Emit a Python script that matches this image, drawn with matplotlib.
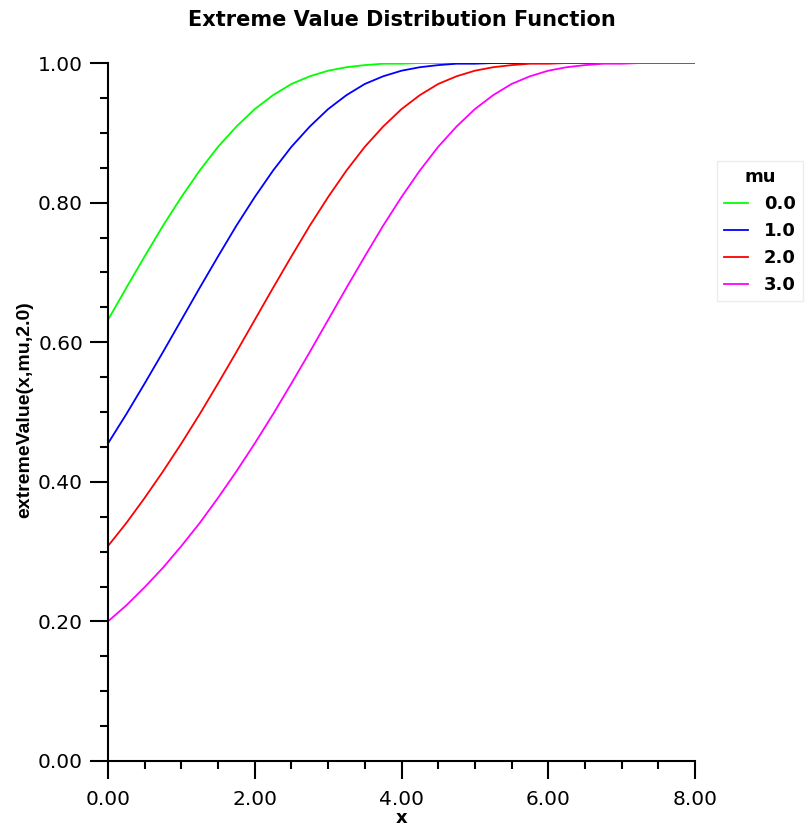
import numpy as np
import matplotlib.pyplot as plt
from matplotlib.ticker import MultipleLocator, FormatStrFormatter

plt.rcParams['font.family'] = ['DejaVu Sans']

# x sampled every 0.25 from 0 to 8
x = np.arange(0, 8.01, 0.25)
mu_labels = ['0.0', '1.0', '2.0', '3.0']
colors = ['#00ff00', '#0000ff', '#ff0000', '#ff00ff']

y_mu0 = [0.632, 0.678, 0.723, 0.767, 0.808, 0.846, 0.880, 0.909, 0.934, 0.954,
         0.970, 0.981, 0.989, 0.994, 0.997, 0.999, 0.999] + [1.000] * 16
y_mu1 = [0.455, 0.497, 0.541, 0.586, 0.632, 0.678, 0.723, 0.767, 0.808, 0.846,
         0.880, 0.909, 0.934, 0.954, 0.970, 0.981, 0.989, 0.994, 0.997, 0.999,
         0.999] + [1.000] * 12
y_mu2 = [0.308, 0.341, 0.377, 0.415, 0.455, 0.497, 0.541, 0.586, 0.632, 0.678,
         0.723, 0.767, 0.808, 0.846, 0.880, 0.909, 0.934, 0.954, 0.970, 0.981,
         0.989, 0.994, 0.997, 0.999, 0.999] + [1.000] * 8
y_mu3 = [0.200, 0.223, 0.249, 0.277, 0.308, 0.341, 0.377, 0.415, 0.455, 0.497,
         0.541, 0.586, 0.632, 0.678, 0.723, 0.767, 0.808, 0.846, 0.880, 0.909,
         0.934, 0.954, 0.970, 0.981, 0.989, 0.994, 0.997, 0.999, 0.999] + [1.000] * 4
curves = [y_mu0, y_mu1, y_mu2, y_mu3]

fig = plt.figure(figsize=(8.09, 8.26), dpi=100)
ax = fig.add_axes([0.1335, 0.0787, 0.7256, 0.845])

for y, c, lab in zip(curves, colors, mu_labels):
    ax.plot(x, y, color=c, lw=1.3, label=lab, solid_joinstyle='round')

ax.set_xlim(0, 8)
ax.set_ylim(0, 1)
ax.spines['top'].set_visible(False)
ax.spines['right'].set_visible(False)
ax.spines['left'].set_linewidth(1.5)
ax.spines['bottom'].set_linewidth(1.5)
ax.xaxis.set_major_locator(MultipleLocator(2))
ax.xaxis.set_minor_locator(MultipleLocator(0.5))
ax.yaxis.set_major_locator(MultipleLocator(0.2))
ax.yaxis.set_minor_locator(MultipleLocator(0.05))
ax.xaxis.set_major_formatter(FormatStrFormatter('%.2f'))
ax.yaxis.set_major_formatter(FormatStrFormatter('%.2f'))
ax.tick_params(which='major', length=13, width=1.5, labelsize=14.5)
ax.tick_params(axis='x', which='major', pad=8)
ax.tick_params(axis='y', which='major', pad=5)
ax.tick_params(which='minor', length=6, width=1.5)

ax.set_title('Extreme Value Distribution Function', fontsize=15, fontweight='bold', pad=27)
ax.set_xlabel('x', fontsize=13, fontweight='bold', va='center')
ax.xaxis.set_label_coords(0.5, -0.081)
ax.set_ylabel('extremeValue(x,mu,2.0)', fontsize=14, fontweight='bold',
              family=['Liberation Sans Narrow', 'Liberation Sans'])
ax.yaxis.set_label_coords(-0.128, 0.503)

leg = ax.legend(title='mu', loc='upper left', bbox_to_anchor=(1.0375, 0.86),
                frameon=True, fancybox=False, edgecolor='#e8e8e8',
                prop={'weight': 'bold', 'size': 13}, handlelength=1.3,
                handletextpad=0.9, borderaxespad=0, labelspacing=0.5)
leg.get_title().set_fontweight('bold')
leg.get_title().set_fontsize(13)

fig.savefig('out.png', dpi=100)
